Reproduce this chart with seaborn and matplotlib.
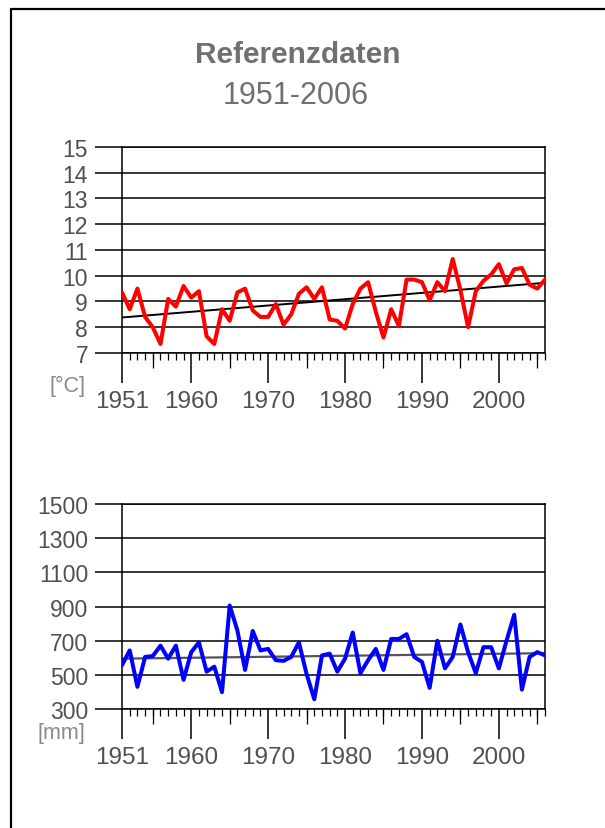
import numpy as np
import pandas as pd
import matplotlib
matplotlib.use("Agg")
import matplotlib.pyplot as plt
import seaborn as sns
from matplotlib.lines import Line2D

# ---------------- data ----------------
years = list(range(1951, 2007))

temperature = [9.35, 8.7, 9.5, 8.4, 8.0, 7.35, 9.1, 8.8, 9.6, 9.15,
               9.4, 7.65, 7.35, 8.7, 8.25, 9.35, 9.5, 8.65, 8.4, 8.4,
               8.9, 8.1, 8.5, 9.3, 9.55, 9.1, 9.55, 8.3, 8.25, 7.95,
               8.9, 9.5, 9.75, 8.6, 7.6, 8.7, 8.05, 9.85, 9.85, 9.75,
               9.05, 9.75, 9.4, 10.65, 9.45, 8.0, 9.4, 9.8, 10.05, 10.45,
               9.7, 10.25, 10.3, 9.65, 9.5, 9.85]

precipitation = [557, 643, 430, 605, 610, 671, 595, 671, 471, 633,
                 690, 519, 548, 399, 906, 760, 529, 757, 643, 652,
                 586, 582, 605, 690, 505, 357, 614, 624, 519, 595,
                 748, 510, 586, 652, 529, 710, 710, 738, 605, 576,
                 424, 700, 538, 605, 795, 633, 510, 662, 662, 538,
                 700, 852, 414, 605, 633, 614]

temp_yticks = [7, 8, 9, 10, 11, 12, 13, 14, 15]
prec_yticks = [300, 500, 700, 900, 1100, 1300, 1500]
x_major = [1951, 1960, 1970, 1980, 1990, 2000]
x_mid = [1955, 1965, 1975, 1985, 1995, 2005]

title = "Referenzdaten"
subtitle = "1951-2006"

# ---------------- style ----------------
sns.set_theme(style="white")
plt.rcParams['font.family'] = ['Liberation Sans', 'DejaVu Sans']

df = pd.DataFrame({"year": years, "temp": temperature, "prec": precipitation})

fig = plt.figure(figsize=(6.05, 8.29), dpi=100)
fig.patch.set_facecolor("white")

LABEL = "#505050"


def style_axis(ax, yticks, unit, unit_y):
    ax.set_xlim(years[0], years[-1])
    ax.set_ylim(yticks[0], yticks[-1])
    ax.set_yticks(yticks)
    ax.set_yticklabels([str(t) for t in yticks])
    ax.set_xticks(x_major)
    ax.set_xticklabels([str(t) for t in x_major])
    ax.set_xticks(years, minor=True)
    ax.set_xlabel("")
    ax.set_ylabel("")
    ax.grid(axis="y", color="black", linewidth=1.1)
    ax.set_axisbelow(True)
    for side in ["left", "right", "top", "bottom"]:
        ax.spines[side].set_visible(True)
        ax.spines[side].set_color("black")
        ax.spines[side].set_linewidth(1.1)
    ax.tick_params(axis="y", which="major", direction="out", length=19.5,
                   width=1.1, color="black", pad=5, labelsize=16.5,
                   labelcolor=LABEL, left=True)
    ax.tick_params(axis="x", which="major", direction="out", length=21.5,
                   width=1.1, color="black", pad=5, labelsize=17.5,
                   labelcolor=LABEL, bottom=True)
    ax.tick_params(axis="x", which="minor", direction="out", length=5,
                   width=0.9, color="black", bottom=True)
    sec = ax.secondary_xaxis("bottom")
    sec.set_xticks(x_mid)
    sec.tick_params(axis="x", direction="out", length=11, width=0.9,
                    color="black", labelbottom=False)
    sec.spines["bottom"].set_visible(False)
    fig.text(0.1405, unit_y, unit, ha="right", va="center",
             fontsize=15.5, color="#8a8a8a")


# ---------------- temperature ----------------
ax1 = fig.add_axes([0.2017, 0.5730, 0.6991, 0.2485])
sns.regplot(data=df, x="year", y="temp", scatter=False, ci=None, ax=ax1,
            line_kws=dict(color="black", linewidth=1.4, zorder=2))
sns.lineplot(data=df, x="year", y="temp", ax=ax1, color="#ff0000",
             linewidth=2.9, zorder=3, solid_joinstyle="round",
             solid_capstyle="round")
style_axis(ax1, temp_yticks, "[°C]", 0.5344)

# ---------------- precipitation ----------------
ax2 = fig.add_axes([0.2017, 0.1435, 0.6991, 0.2473])
sns.regplot(data=df, x="year", y="prec", scatter=False, ci=None, ax=ax2,
            line_kws=dict(color="#555555", linewidth=1.6, zorder=2))
sns.lineplot(data=df, x="year", y="prec", ax=ax2, color="#0000ff",
             linewidth=2.9, zorder=3, solid_joinstyle="round",
             solid_capstyle="round")
style_axis(ax2, prec_yticks, "[mm]", 0.1158)

# ---------------- titles ----------------
fig.text(0.4926, 0.9337, title, ha="center", va="center", fontsize=21.5,
         fontweight="bold", color="#707070")
fig.text(0.489, 0.884, subtitle, ha="center", va="center", fontsize=22,
         color="#707070")

# ---------------- frame (top and left edges) ----------------
fig.add_artist(Line2D([11 / 605, 11 / 605], [0, 1 - 10 / 829],
                      transform=fig.transFigure, color="black", linewidth=1.6))
fig.add_artist(Line2D([11 / 605, 1], [1 - 10 / 829, 1 - 10 / 829],
                      transform=fig.transFigure, color="black", linewidth=1.6))

fig.savefig("out.png", dpi=100, facecolor="white")
